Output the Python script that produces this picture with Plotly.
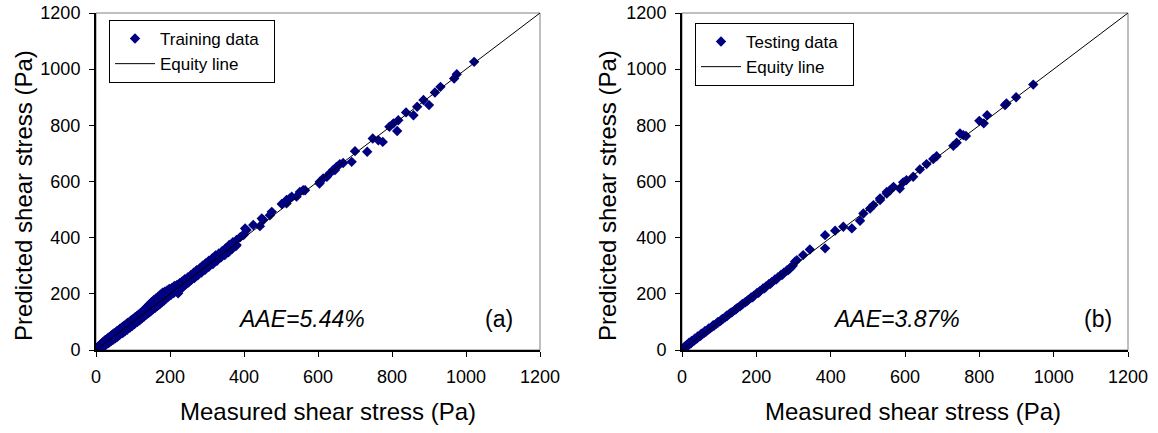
import plotly.graph_objects as go

# ---------------- data ----------------
train_meas_a = [3, 6, 9, 12, 15, 18, 21, 25, 29, 33, 37, 41, 45, 49, 53, 57, 61, 65, 70, 75, 80, 85, 90, 95, 100,
                105, 110, 115, 120, 126, 132, 138, 144, 150, 156, 162, 168, 174, 180, 186, 192, 198, 205, 212, 219,
                226, 233, 240, 248, 256, 264, 272, 280, 288, 296, 305, 314, 323, 332, 341, 350, 360, 370, 380, 390, 400]
train_pred_a = [8, 12, 14, 20, 22, 27, 30, 36, 38, 44, 46, 52, 55, 60, 62, 68, 70, 76, 80, 86, 90, 96, 99, 106, 110,
                116, 120, 126, 131, 138, 146, 154, 162, 170, 177, 184, 190, 197, 204, 208, 212, 217, 221, 228, 232,
                238, 244, 252, 258, 266, 275, 284, 290, 300, 308, 318, 326, 337, 344, 352, 362, 374, 384, 392, 402, 412]

train_meas_b = [5, 10, 14, 19, 24, 28, 34, 40, 46, 52, 58, 64, 72, 78, 84, 92, 98, 104, 112, 118, 124, 130, 136, 142,
                148, 154, 160, 166, 172, 178, 184, 190, 196, 202, 210, 218, 222, 227, 234, 242, 250, 258, 266, 275,
                281, 285, 295, 299, 305, 316, 326, 327, 338, 348, 353, 358, 368, 378, 380, 398, 407]
train_pred_b = [2, 4, 8, 12, 16, 20, 25, 31, 36, 42, 47, 54, 60, 67, 72, 80, 86, 92, 100, 106, 113, 119, 126, 132,
                138, 145, 150, 157, 163, 170, 176, 184, 190, 196, 203, 210, 202, 214, 224, 232, 240, 250, 256, 266,
                285, 276, 286, 302, 296, 306, 320, 318, 330, 338, 356, 348, 360, 370, 374, 409, 427]

train_meas_c = [403, 425, 443, 448, 452, 470, 475, 502, 515, 515, 524, 529, 542, 551, 560, 565, 604, 605, 614, 624,
                632, 641, 646, 650, 659, 668, 691, 700, 733, 748, 763, 775, 793, 804, 814, 817, 838, 858, 868, 885,
                900, 916, 931, 968, 975, 1022]
train_pred_c = [433, 445, 441, 468, 463, 480, 492, 520, 522, 534, 540, 546, 546, 563, 569, 569, 593, 599, 611, 617,
                629, 641, 641, 652, 662, 666, 670, 708, 706, 753, 747, 741, 795, 807, 780, 818, 846, 836, 866, 890,
                872, 917, 937, 967, 982, 1026]

test_meas_a = [2, 5, 8, 11, 14, 17, 20, 24, 28, 32, 36, 40, 45, 50, 55, 60, 65, 70, 75, 80, 86, 92, 98, 104, 110,
               116, 122, 128, 135, 142, 149, 156, 163, 170, 178, 186, 194, 202, 210, 218, 226, 234, 242, 250, 258,
               266, 274, 282, 290, 298]
test_pred_a = [3, 4, 9, 10, 16, 17, 22, 24, 30, 33, 38, 41, 47, 51, 57, 61, 66, 72, 76, 82, 86, 93, 99, 104, 111,
               116, 122, 129, 135, 142, 150, 156, 164, 170, 178, 187, 194, 203, 210, 219, 226, 235, 242, 251, 258,
               267, 275, 283, 291, 300]

test_meas_b = [7, 13, 19, 26, 34, 42, 52, 62, 72, 84, 96, 108, 120, 132, 146, 160, 174, 190, 206, 222, 238, 254,
               270, 286, 291]
test_pred_b = [12, 18, 26, 32, 40, 48, 58, 68, 77, 88, 99, 110, 122, 133, 146, 160, 173, 188, 204, 220, 236, 252,
               268, 285, 291]

test_meas_c = [304, 309, 326, 344, 385, 385, 412, 434, 457, 479, 488, 506, 515, 533, 533, 551, 551, 560, 569, 586,
               595, 604, 622, 640, 658, 676, 685, 730, 739, 748, 757, 764, 800, 812, 821, 869, 873, 899, 945]
test_pred_c = [314, 320, 338, 358, 362, 409, 425, 439, 433, 460, 486, 504, 516, 534, 540, 557, 563, 569, 581, 575,
               597, 605, 617, 643, 662, 680, 690, 727, 738, 771, 765, 762, 816, 807, 836, 872, 878, 900, 945]

equity = [0, 1200]
ticks = [0, 200, 400, 600, 800, 1000, 1200]

train_x = train_meas_a + train_meas_b + train_meas_c
train_y = train_pred_a + train_pred_b + train_pred_c
test_x = test_meas_a + test_meas_b + test_meas_c
test_y = test_pred_a + test_pred_b + test_pred_c

# ---------------- figure ----------------
W, H = 1158, 433
FONT = "Liberation Sans, Arial, sans-serif"
NAVY = "#000080"

def fx(px):
    return px / W

def fy(py):
    return 1 - py / H

fig = go.Figure()
marker = dict(symbol="diamond", size=8, color=NAVY, line=dict(width=0))
NB = "\u00a0"

fig.add_trace(go.Scatter(x=train_x, y=train_y, mode="markers", marker=marker, name="Training data" + NB * 2,
                         xaxis="x", yaxis="y", legend="legend"))
fig.add_trace(go.Scatter(x=equity, y=equity, mode="lines", line=dict(color="black", width=1),
                         name="Equity line", xaxis="x", yaxis="y", legend="legend"))
fig.add_trace(go.Scatter(x=test_x, y=test_y, mode="markers", marker=marker, name="Testing data" + NB * 2,
                         xaxis="x2", yaxis="y2", legend="legend2"))
fig.add_trace(go.Scatter(x=equity, y=equity, mode="lines", line=dict(color="black", width=1),
                         name="Equity line", xaxis="x2", yaxis="y2", legend="legend2"))

ydom = [fy(350), fy(13)]
xdom1 = [fx(96), fx(540)]
xdom2 = [fx(682), fx(1128)]

def xa(dom, anchor):
    return dict(domain=dom, anchor=anchor, range=[0, 1200], tickvals=ticks, ticks="outside", ticklen=5,
                tickwidth=1, tickcolor="black", showline=True, linecolor="black", linewidth=2,
                showgrid=False, zeroline=False, automargin=False, ticklabelstandoff=4,
                ticklabeloverflow="allow",
                tickfont=dict(family=FONT, size=18, color="black"))

def ya(anchor):
    return dict(domain=ydom, anchor=anchor, range=[0, 1200], tickvals=ticks, ticks="outside", ticklen=5,
                tickwidth=1, tickcolor="black", showline=True, linecolor="black", linewidth=2,
                showgrid=False, zeroline=False, automargin=False, ticklabelstandoff=5,
                ticklabeloverflow="allow",
                tickfont=dict(family=FONT, size=18, color="black"))

legend_common = dict(bgcolor="white", bordercolor="black", borderwidth=1,
                     font=dict(family=FONT, size=17, color="black"), xanchor="left", yanchor="top",
                     tracegroupgap=0, itemwidth=40)

def paper_annot(px, py, text, size, angle=0):
    return dict(x=fx(px), y=fy(py), xref="paper", yref="paper", text=text, showarrow=False,
                textangle=angle, xanchor="center", yanchor="middle",
                font=dict(family=FONT, size=size, color="black"))

fig.update_layout(
    width=W, height=H, margin=dict(l=0, r=0, t=0, b=0),
    paper_bgcolor="white", plot_bgcolor="white",
    xaxis=xa(xdom1, "y"), yaxis=ya("x"),
    xaxis2=xa(xdom2, "y2"), yaxis2=ya("x2"),
    legend=dict(x=fx(109), y=fy(20), **legend_common),
    legend2=dict(x=fx(695), y=fy(23), **legend_common),
    showlegend=True,
    shapes=[
        dict(type="rect", xref="x domain", yref="y domain", x0=0, x1=1, y0=0, y1=1,
             line=dict(color="#808080", width=1), layer="below"),
        dict(type="rect", xref="x2 domain", yref="y2 domain", x0=0, x1=1, y0=0, y1=1,
             line=dict(color="#808080", width=1), layer="below"),
    ],
    annotations=[
        paper_annot(328, 411, "Measured shear stress (Pa)", 24),
        paper_annot(913, 411, "Measured shear stress (Pa)", 24),
        paper_annot(23, 196, "Predicted shear stress (Pa)", 24, -90),
        paper_annot(607, 196, "Predicted shear stress (Pa)", 24, -90),
        dict(x=555, y=110, xref="x", yref="y", text="<i>AAE=5.44%</i>", showarrow=False,
             font=dict(family=FONT, size=23, color="black")),
        dict(x=1090, y=110, xref="x", yref="y", text="(a)", showarrow=False,
             font=dict(family=FONT, size=23, color="black")),
        dict(x=578, y=110, xref="x2", yref="y2", text="<i>AAE=3.87%</i>", showarrow=False,
             font=dict(family=FONT, size=23, color="black")),
        dict(x=1120, y=110, xref="x2", yref="y2", text="(b)", showarrow=False,
             font=dict(family=FONT, size=23, color="black")),
    ],
)

# remove the browser's default 8px page margin so the figure fills the window exactly
fig.write_html("out.html", config={"displayModeBar": False},
               post_script="document.body.style.margin='0px';")
